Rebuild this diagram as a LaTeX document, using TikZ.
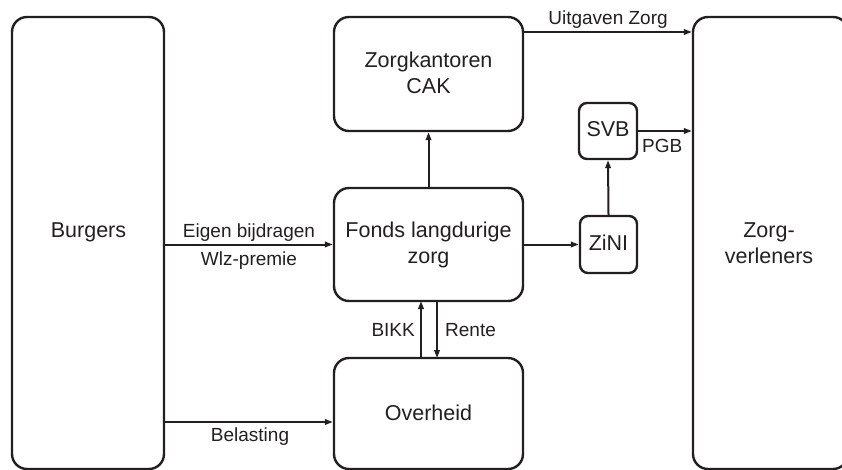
\documentclass[tikz,border=0pt]{standalone}
\usepackage{fontspec}
\setmainfont{Liberation Sans}
\usetikzlibrary{arrows.meta}
\definecolor{ink}{HTML}{231F20}
\tikzset{
  box/.style={draw=ink, line width=2.4pt, rounded corners=15pt, inner sep=0pt},
  smallbox/.style={box, rounded corners=8pt},
  flow/.style={draw=ink, line width=2pt, -{Triangle[length=8pt,width=5.5pt]}},
  boxtext/.style={text=ink, inner sep=0pt, anchor=base, font=\fontsize{21.5}{26}\selectfont},
  lbl/.style={text=ink, inner sep=0pt, anchor=base, font=\fontsize{19}{23}\selectfont},
}
\newcommand{\boxat}[6][box]{% style, name, x1, y1, x2, y2
  \node[#1, minimum width={#5-#3}, minimum height={#6-#4}] (#2) at ({(#3+#5)/2},{(#4+#6)/2}) {};}
\begin{document}
\begin{tikzpicture}[x=1pt,y=-1pt]
\useasboundingbox (0,0) rectangle (842,470);
% boxes
\boxat{burgers}{12}{17}{164}{469}
\boxat{zk}{334}{17}{523}{131}
\boxat{fonds}{334}{188}{523}{301}
\boxat{overheid}{334}{358}{523}{469}
\boxat[smallbox]{svb}{579}{103}{637}{159}
\boxat[smallbox]{zini}{580}{216}{637}{273}
\boxat{zv}{693}{17}{848}{469}
% box texts
\node[boxtext] (tburgers) at (88.5,237) {Burgers};
\node[boxtext] (tzk1) at (428.5,68) {Zorgkantoren};
\node[boxtext] (tzk2) at (428.5,94) {CAK};
\node[boxtext] (tf1) at (428.5,237) {Fonds langdurige};
\node[boxtext] (tf2) at (428.5,263) {zorg};
\node[boxtext] (tov) at (428.5,420) {Overheid};
\node[boxtext] (tsvb) at (608,137) {SVB};
\node[boxtext] (tzini) at (608.5,250) {ZiNI};
\node[boxtext] (tzv1) at (769,237) {Zorg-};
\node[boxtext] (tzv2) at (769,263) {verleners};
% connectors
\coordinate (bl1) at (burgers.east |- fonds.west);
\draw[flow] (bl1) -- (fonds.west);
\coordinate (bl2) at (164,422);
\coordinate (ov2) at (overheid.west |- bl2);
\draw[flow] (bl2) -- (ov2);
\draw[flow] (fonds.north) -- (zk.south);
\coordinate (ovb) at (421,358);
\coordinate (fob) at (421,301);
\draw[flow] (ovb) -- (fob);
\coordinate (fr) at (437,301);
\coordinate (orr) at (437,358);
\draw[flow] (fr) -- (orr);
\draw[flow] (fonds.east |- zini.west) -- (zini.west);
\draw[flow] (zini.north) -- (svb.south);
\coordinate (pg) at (zv.west |- svb.east);
\draw[flow] (svb.east) -- (pg);
\coordinate (uz1) at (523,32);
\coordinate (uz2) at (zv.west |- uz1);
\draw[flow] (uz1) -- (uz2);
% labels
\node[lbl] (l1) at (249,237) {Eigen bijdragen};
\node[lbl] (l2) at (249,265) {Wlz-premie};
\node[lbl] (l3) at (250,441) {Belasting};
\node[lbl, anchor=base east] (l4) at (415,336) {BIKK};
\node[lbl, anchor=base west] (l5) at (445,336) {Rente};
\node[lbl, anchor=base west] (l6) at (642,153) {PGB};
\node[lbl] (l7) at (608,25) {Uitgaven Zorg};
\end{tikzpicture}
\end{document}
